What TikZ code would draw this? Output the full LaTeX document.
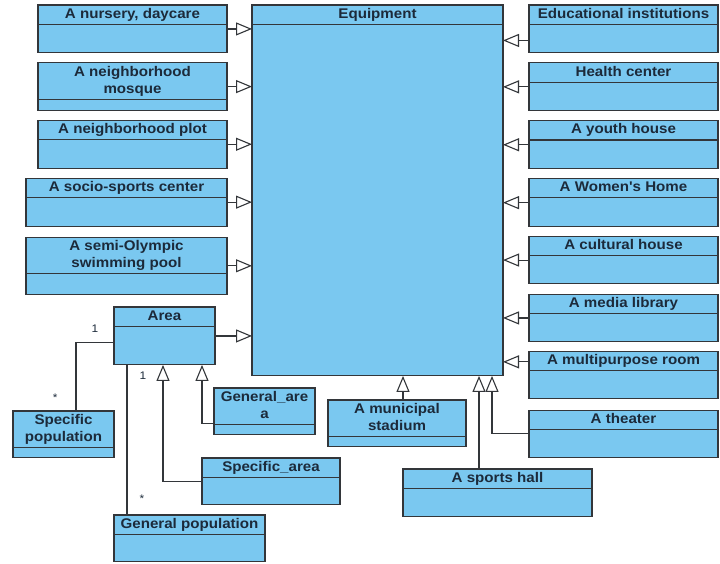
\documentclass[tikz,border=0pt]{standalone}
\usepackage{fontspec}
\usepackage{tikz}
\usetikzlibrary{arrows.meta,positioning,shapes.multipart}
\newfontfamily\umlfont{Liberation Sans}[FakeStretch=1.08]
\definecolor{UMLBlue}{HTML}{7AC8F0}
\definecolor{UMLLine}{HTML}{33363A}
\definecolor{UMLText}{HTML}{1C2A3A}
\newcommand{\cname}[1]{\strut#1\strut}

\begin{document}
\begin{tikzpicture}[x=1pt,y=-1pt,
  cls/.style={rectangle split,rectangle split parts=2,draw=UMLLine,fill=UMLBlue,line width=1.1pt,font=\umlfont\bfseries\fontsize{14}{17.5}\selectfont,text=UMLText,align=center,inner xsep=2pt,inner ysep=0.3pt,outer sep=0pt},
  box/.style 2 args={minimum width=#1pt,rectangle split empty part height=#2pt,rectangle split empty part depth=0pt},
  gen/.style={draw=UMLLine,line width=1.1pt,-{Triangle[length=16pt,width=13pt,fill=white]}},
  assoc/.style={draw=UMLLine,line width=1.1pt},
  mult/.style={font=\umlfont\fontsize{11}{13}\selectfont,text=UMLText,inner sep=0pt},
]
\useasboundingbox (0,0) rectangle (720,563);

% the central class
\node[cls,box={251}{350},anchor=north west] (equip) at (252,5) {\cname{Equipment}};

% left column
\node[cls,box={189}{27},anchor=north west] (nursery) at (38,5) {\cname{A nursery, daycare}};
\node[cls,box={189}{9},below=10pt of nursery] (mosque) {\cname{A neighborhood\\mosque}};
\node[cls,box={189}{27},below=10pt of mosque] (plot) {\cname{A neighborhood plot}};
\node[cls,box={201}{27},below left=10pt and 0pt of plot.south east] (socio) {\cname{A socio-sports center}};
\node[cls,box={201}{19},below=11pt of socio] (pool) {\cname{A semi-Olympic\\swimming pool}};

% area and population
\node[cls,box={101}{37},anchor=north west] (area) at (114,307) {\cname{Area}};
\node[cls,box={101}{8},anchor=north west] (spop) at (13,411) {\cname{Specific\\population}};
\node[cls,box={101}{8},anchor=north west] (garea) at (214,388) {\cname{General\_are\\a}};
\node[cls,box={138}{26},anchor=north west] (sarea) at (202,458) {\cname{Specific\_area}};
\node[cls,box={151}{26},anchor=north west] (gpop) at (114,515) {\cname{General population}};

% below the central class
\node[cls,box={138}{8},anchor=north west] (stadium) at (328,400) {\cname{A municipal\\stadium}};
\node[cls,box={189}{27},anchor=north west] (hall) at (403,469) {\cname{A sports hall}};

% right column
\node[cls,box={189}{27},anchor=north west] (edu) at (529,5) {\cname{Educational institutions}};
\node[cls,box={189}{27},below=10pt of edu] (health) {\cname{Health center}};
\node[cls,box={189}{27},below=10pt of health] (youth) {\cname{A youth house}};
\node[cls,box={189}{27},below=10pt of youth] (women) {\cname{A Women's Home}};
\node[cls,box={189}{26},below=10pt of women] (cultural) {\cname{A cultural house}};
\node[cls,box={189}{26},below=11pt of cultural] (media) {\cname{A media library}};
\node[cls,box={189}{26},below=10pt of media] (multi) {\cname{A multipurpose room}};
\node[cls,box={189}{26},below=12pt of multi] (theater) {\cname{A theater}};

% generalizations
\foreach \c in {nursery,mosque,plot,socio,pool,area}
  \draw[gen] (\c.east) -- (\c.east -| equip.west);
\foreach \c in {health,youth,women,cultural,media}
  \draw[gen] (\c.west) -- (\c.west -| equip.east);
\draw[gen] ([yshift=-11.5pt]edu.west) -- ([yshift=-11.5pt]edu.west -| equip.east);
\draw[gen] ([yshift=13pt]multi.west) -- ([yshift=13pt]multi.west -| equip.east);
\draw[gen] ([xshift=6pt]stadium.north) -- ([xshift=6pt]stadium.north |- equip.south);
\draw[gen] ([xshift=76pt]hall.north west) -- ([xshift=76pt]hall.north west |- equip.south);
\draw[gen] (theater.west) -| ([xshift=-11pt]equip.south east);
\draw[gen] ([yshift=-12pt]garea.west) -| ([xshift=-13pt]area.south east);
\draw[gen] (sarea.west) -| ([xshift=49pt]area.south west);

% associations
\draw[assoc] ([yshift=-6.5pt]area.west) -| ([xshift=12.5pt]spop.north)
  node[mult,pos=0.25,above=9pt] {1} node[mult,pos=0.9,left=18pt] {*};
\draw[assoc] ([xshift=13pt]area.south west) -- ([xshift=13pt]gpop.north west)
  node[mult,pos=0.07,right=12pt] {1} node[mult,pos=0.89,right=12pt] {*};
\end{tikzpicture}
\end{document}
